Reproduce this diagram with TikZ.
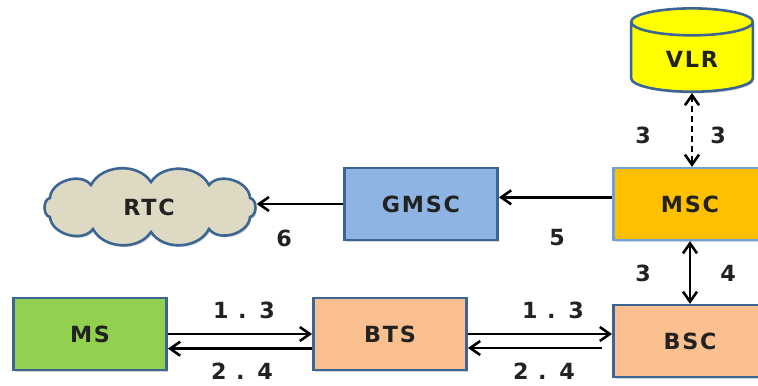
\documentclass[tikz,border=0pt]{standalone}
\usepackage{fontspec}
\setmainfont{DejaVu Sans}
\newfontfamily\labelfont[LetterSpace=8]{DejaVu Sans Bold}
\usetikzlibrary{shapes.geometric, shadows, arrows.meta}
\definecolor{edgeBlue}{HTML}{3B6593}
\definecolor{lightEdge}{HTML}{6FA0DC}
\definecolor{msGreen}{HTML}{92D050}
\definecolor{peach}{HTML}{FAC090}
\definecolor{mscOrange}{HTML}{FFC000}
\definecolor{gmscBlue}{HTML}{8EB4E3}
\definecolor{vlrYellow}{HTML}{FFFF00}
\definecolor{rtcBeige}{HTML}{DDD9C3}
\definecolor{textGray}{HTML}{222222}
\begin{document}
\begin{tikzpicture}[x=0.3mm, y=-0.3mm,
    boxStyle/.style={rectangle, draw=edgeBlue, line width=2.2pt, minimum width=46mm, minimum height=21.5mm,
        text=textGray, font=\labelfont\fontsize{19}{22}\selectfont,
        drop shadow={shadow xshift=1.2pt, shadow yshift=-1.5pt, opacity=0.35}},
    cloudStyle/.style={draw=edgeBlue, line width=2.2pt, fill=rtcBeige,
        drop shadow={shadow xshift=1.2pt, shadow yshift=-1.5pt, opacity=0.35}},
    numStyle/.style={text=textGray, font=\labelfont\fontsize{19}{22}\selectfont},
    arrowStyle/.style={line width=2.2pt, -{Straight Barb[length=3mm, width=4.2mm, line width=2.2pt]}},
    bothStyle/.style={line width=2.2pt, {Straight Barb[length=3mm, width=4.2mm, line width=2.2pt]}-{Straight Barb[length=3mm, width=4.2mm, line width=2.2pt]}}]
    \useasboundingbox (0,0) rectangle (758,385);

    \begin{scope}[shift={(149,207)}]
        \draw[cloudStyle] (101,-9) to[bend right=70] (60,-22) to[bend right=60] (2,-25)
            to[bend right=60] (-58,-22) to[bend right=70] (-99,-9) to[bend right=80] (-99,10)
            to[bend right=70] (-56,22) to[bend right=60] (2,25) to[bend right=60] (60,22)
            to[bend right=70] (101,10) to[bend right=80] cycle;
    \end{scope}

    \node[boxStyle, fill=msGreen] (ms)   at (90, 334) {MS};
    \node[boxStyle, fill=peach]   (bts)  at (390, 334) {BTS};
    \node[boxStyle, fill=peach]   (bsc)  at (690, 341) {BSC};
    \node[boxStyle, fill=mscOrange, draw=lightEdge] (msc) at (690, 204) {MSC};
    \node[boxStyle, fill=gmscBlue] (gmsc) at (421, 204) {GMSC};
    \node[cylinder, shape border rotate=90, aspect=0.45, draw=edgeBlue, line width=2.2pt, fill=vlrYellow,
        minimum width=36.5mm, minimum height=25mm, anchor=south, text=textGray, font=\labelfont\fontsize{19}{22}\selectfont,
        drop shadow={shadow xshift=1.2pt, shadow yshift=-1.5pt, opacity=0.35}] (vlr) at (692, 93) {VLR};
    \node[ellipse, minimum width=64.5mm, minimum height=23mm, inner sep=0pt, text=textGray,
        font=\labelfont\fontsize{19}{22}\selectfont] (rtc) at (149, 207) {RTC};

    \node[numStyle] (l_ms_up)  at (244, 310) {1 . 3};
    \node[numStyle] (l_ms_dn)  at (242, 371) {2 . 4};
    \node[numStyle] (l_bsc_up) at (553, 310) {1 . 3};
    \node[numStyle] (l_bsc_dn) at (544, 371) {2 . 4};
    \node[numStyle] (l_v_l) at (643, 135) {3};
    \node[numStyle] (l_v_r) at (718, 135) {3};
    \node[numStyle] (l_m_l) at (643, 273) {3};
    \node[numStyle] (l_m_r) at (728, 273) {4};
    \node[numStyle] (l_5)   at (557, 238) {5};
    \node[numStyle] (l_6)   at (284, 238) {6};

    \draw[arrowStyle] (ms.east) -- (bts.west);
    \draw[arrowStyle] ([yshift=-4.4mm]bts.west) -- ([yshift=-4.4mm]ms.east);
    \draw[arrowStyle] (bts.east) -- (bts.east -| bsc.west);
    \draw[arrowStyle, shorten <=3mm] ([yshift=-4.2mm]bts.east -| bsc.west) -- ([yshift=-4.2mm]bts.east);
    \draw[bothStyle] (msc.south) -- (bsc.north);
    \draw[bothStyle, dash pattern=on 5pt off 3.5pt] (vlr.south) -- (vlr.south |- msc.north);
    \draw[arrowStyle] ([yshift=2mm]msc.west) -- ([yshift=2mm]gmsc.east);
    \draw[arrowStyle] (gmsc.west) -- (gmsc.west -| rtc.east);
\end{tikzpicture}
\end{document}
